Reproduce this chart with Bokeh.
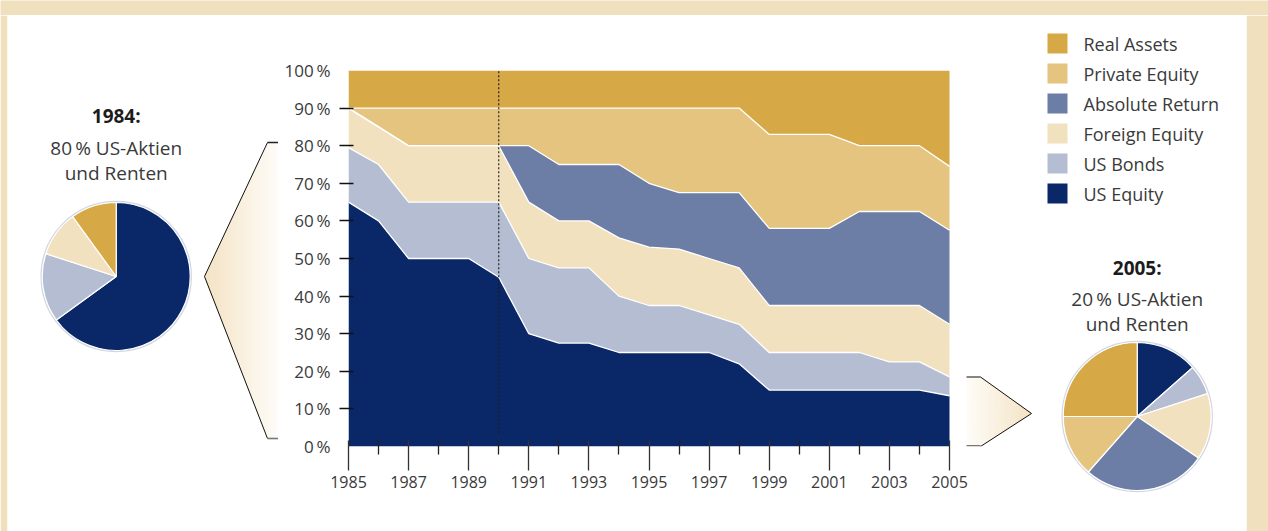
import numpy as np
from bokeh.plotting import figure
from bokeh.models import ColumnDataSource, Range1d, FixedTicker, LinearAxis
from bokeh.layouts import row, column
from bokeh.core.properties import value
from bokeh.embed import file_html
from bokeh.resources import INLINE

# ---------------- data ----------------
years = list(range(1985, 2006))
series_names = ["US Equity", "US Bonds", "Foreign Equity",
                "Absolute Return", "Private Equity", "Real Assets"]
us_equity = [65, 60, 50, 50, 50, 45, 30, 27.5, 27.5, 25, 25, 25, 25, 22,
             15, 15, 15, 15, 15, 15, 13.5]
us_bonds = [14.5, 15, 15, 15, 15, 20, 20, 20, 20, 15, 12.5, 12.5, 10, 10.5,
            10, 10, 10, 10, 7.5, 7.5, 5]
foreign_equity = [10.5, 10, 15, 15, 15, 15, 15, 12.5, 12.5, 15.5, 15.5, 15, 15, 15,
                  12.5, 12.5, 12.5, 12.5, 15, 15, 14]
absolute_return = [0, 0, 0, 0, 0, 0, 15, 15, 15, 19.5, 17, 15, 17.5, 20,
                   20.5, 20.5, 20.5, 25, 25, 25, 25]
private_equity = [0, 5, 10, 10, 10, 10, 10, 15, 15, 15, 20, 22.5, 22.5, 22.5,
                  25, 25, 25, 17.5, 17.5, 17.5, 17]
real_assets = [10, 10, 10, 10, 10, 10, 10, 10, 10, 10, 10, 10, 10, 10,
               17, 17, 17, 20, 20, 20, 25.5]

pie_1984 = [65, 15, 10, 0, 0, 10]
pie_2005 = [13.5, 6.5, 14.5, 27, 13.5, 25]
pie_titles = ["1984:", "2005:"]
pie_sub1 = ["80\u2009% US-Aktien", "20\u2009% US-Aktien"]
pie_sub2 = ["und Renten", "und Renten"]

x_tick_years = list(range(1985, 2006, 2))
x_minor_years = list(range(1986, 2005, 2))
y_ticks = list(range(0, 101, 10))
y_minor = list(range(10, 100, 10))
y_tick_labels = [f"{t}\u2009%" for t in y_ticks]
marker_year = 1990

# ---------------- style ----------------
colors = ["#0A2868", "#B5BDD3", "#F2E1BF", "#6C7DA6", "#E5C47F", "#D7A846"]
BEIGE = "#F1E0BD"
GRAD_DARK = np.array([244, 228, 198])
GRAD_LIGHT = np.array([254, 252, 248])
TXT = "#3a3a3a"
FONT = "Open Sans"
TOP = 15          # height of the beige top band
H = 531 - TOP     # height of the panel row


def plain(width, height, xr, yr, **kw):
    p = figure(width=width, height=height, x_range=xr, y_range=yr,
               toolbar_location=None, output_backend="svg",
               x_axis_location=None, y_axis_location=None, frame_align=False,
               background_fill_color="white", outline_line_color=None, **kw)
    p.grid.visible = False
    return p


def shape_poly(ox, top_y, bot_y, lo, hi):
    xs = sorted(set([lo, hi] + [v for v in ox if lo < v < hi]))
    t = np.interp(xs, ox, top_y)
    b = np.interp(xs, ox, bot_y)
    return list(xs) + list(xs[::-1]), list(t) + list(b[::-1])


def grad_color(t):
    c = GRAD_LIGHT + (GRAD_DARK - GRAD_LIGHT) * t
    return "#%02x%02x%02x" % tuple(int(round(v)) for v in c)


def draw_pie(p, cx, cy, vals, title, s1, s2, ty):
    frac = np.array(vals, dtype=float) / np.sum(vals)
    cum = np.concatenate([[0], np.cumsum(frac)])
    keep = frac > 0
    start = (np.pi / 2 - 2 * np.pi * cum[:-1])[keep]
    end = (np.pi / 2 - 2 * np.pi * cum[1:])[keep]
    cols = [c for c, k in zip(colors, keep) if k]
    p.circle(x=[cx], y=[cy], radius=75, radius_units="screen", fill_color=None,
             line_color="#D3D7E2", line_width=1.5)
    src = ColumnDataSource(dict(x=[cx] * len(cols), y=[cy] * len(cols),
                                s=list(start), e=list(end), c=cols))
    p.wedge(x="x", y="y", radius=74, radius_units="screen", start_angle="s",
            end_angle="e", direction="clock", fill_color="c",
            line_color="white", line_width=1.2, source=src)
    p.text(x=[cx], y=[-ty[0]], text=[title], text_font=value(FONT),
           text_font_style="bold", text_font_size="19px", text_color="#1c1c1c",
           text_align="center", text_baseline="alphabetic")
    p.text(x=[cx, cx], y=[-ty[1], -ty[2]], text=[s1, s2], text_font=value(FONT),
           text_font_size="19px", text_color=TXT,
           text_align="center", text_baseline="alphabetic")


# ---------------- top band ----------------
band = figure(width=1268, height=TOP, min_border=0, toolbar_location=None,
              output_backend="svg", x_axis_location=None, y_axis_location=None,
              background_fill_color=BEIGE, border_fill_color=BEIGE,
              outline_line_color=None, frame_align=False)
band.grid.visible = False

# ---------------- left panel (page x 0..278) ----------------
left = plain(278, H, Range1d(7, 278), Range1d(-531, -TOP), min_border_left=7,
             min_border_right=0, min_border_top=0, min_border_bottom=0,
             border_fill_color=BEIGE)
lx = [204, 267, 278]
lt = [-276, -142, -142]
lb = [-276, -438, -438]
N = 30
xs_l, ys_l, cs_l = [], [], []
for k in range(N):
    hi = 278 - k * (72 / N)
    a, b = shape_poly(lx, lt, lb, 204, hi)
    xs_l.append(a)
    ys_l.append(b)
    cs_l.append(grad_color(k / (N - 1)))
left.patches(xs=xs_l, ys=ys_l, fill_color=cs_l, line_color=None)
left.line(x=[267, 204, 267], y=[-142, -276, -438], line_color="#111", line_width=1)
left.segment(x0=[267, 267], y0=[-142, -438], x1=[278, 278], y1=[-142, -438],
             line_color=["#222", "#777"], line_width=1.6)
draw_pie(left, 115.7, -276, pie_1984, pie_titles[0], pie_sub1[0], pie_sub2[0],
         (115, 147.5, 172))

# ---------------- main chart (page x 278..1040) ----------------
main = plain(762, H, Range1d(1985, 1985 + 692 * 20 / 601), Range1d(0, 100),
             min_border_left=70, min_border_right=0, min_border_top=70 - TOP,
             min_border_bottom=531 - 446, border_fill_color="white")
series = [us_equity, us_bonds, foreign_equity, absolute_return, private_equity, real_assets]
cum = np.cumsum(np.array(series, dtype=float), axis=0)
data = dict(year=years, b0=[0.0] * len(years))
for i in range(len(series)):
    data[f"t{i}"] = list(cum[i])
    if i > 0:
        data[f"b{i}"] = list(cum[i - 1])
src = ColumnDataSource(data)
for i, name in enumerate(series_names):
    main.varea(x="year", y1=f"b{i}", y2=f"t{i}", fill_color=colors[i], source=src)
for i in range(len(series) - 1):
    main.line(x="year", y=f"t{i}", line_color="white", line_width=1.3, source=src)
main.segment(x0=[marker_year], y0=[3.5], x1=[marker_year], y1=[100],
             line_color="#1a1a1a", line_width=1.1, line_dash="2 2")

main.extra_x_ranges = {"px": Range1d(348, 1040)}
main.extra_y_ranges = {"py": Range1d(-446, -70)}
rx = [966, 980, 1031]
rt = [-376, -376, -413]
rb = [-446, -446, -413]
xs_r, ys_r, cs_r = [], [], []
for k in range(N):
    lo = 966 + k * (63 / N)
    a, b = shape_poly(rx, rt, rb, lo, 1031)
    xs_r.append(a)
    ys_r.append(b)
    cs_r.append(grad_color(k / (N - 1)))
main.patches(xs=xs_r, ys=ys_r, fill_color=cs_r, line_color=None,
             x_range_name="px", y_range_name="py")
main.line(x=[966, 980, 1031, 980], y=[-376.5, -376.5, -413, -446], line_color="#111",
          line_width=1, x_range_name="px", y_range_name="py")
main.segment(x0=[966], y0=[-445.3], x1=[980], y1=[-445.3], line_color="#777",
             line_width=1.6, x_range_name="px", y_range_name="py")

xaxis = LinearAxis(ticker=FixedTicker(ticks=x_tick_years, minor_ticks=x_minor_years))
xaxis.axis_line_color = None
xaxis.major_tick_in = 6
xaxis.major_tick_out = 24
xaxis.minor_tick_in = 6
xaxis.minor_tick_out = 8
xaxis.major_tick_line_color = "#333"
xaxis.minor_tick_line_color = "#222"
xaxis.major_tick_line_width = 1.3
xaxis.minor_tick_line_width = 1.3
xaxis.major_label_standoff = 5
xaxis.major_label_text_font = FONT
xaxis.major_label_text_font_size = "16px"
xaxis.major_label_text_color = TXT
main.add_layout(xaxis, "below")

yaxis = LinearAxis(ticker=FixedTicker(ticks=y_ticks, minor_ticks=y_minor))
yaxis.axis_line_color = None
yaxis.major_tick_in = 0
yaxis.major_tick_out = 0
yaxis.minor_tick_in = 5
yaxis.minor_tick_out = 9
yaxis.minor_tick_line_color = "#111"
yaxis.minor_tick_line_width = 1.3
yaxis.major_label_standoff = 9
yaxis.major_label_text_font = FONT
yaxis.major_label_text_font_size = "17px"
yaxis.major_label_text_color = TXT
yaxis.major_label_overrides = dict(zip(y_ticks, y_tick_labels))
main.add_layout(yaxis, "left")

# ---------------- right panel (page x 1040..1268) ----------------
right = plain(228, H, Range1d(1040, 1246), Range1d(-531, -TOP), min_border_left=0,
              min_border_top=0, min_border_bottom=0, min_border_right=22,
              border_fill_color=BEIGE)
leg_names = series_names[::-1]
leg_colors = colors[::-1]
leg_y = [-(43 + 30 * i) for i in range(len(leg_names))]
right.rect(x=[1057] * len(leg_names), y=leg_y, width=20, height=20,
           fill_color=leg_colors, line_color=None)
right.text(x=[1083] * len(leg_names), y=leg_y, text=leg_names, text_font=value(FONT),
           text_font_size="18px", text_color=TXT, text_baseline="middle",
           text_align="left")
draw_pie(right, 1136.7, -416, pie_2005, pie_titles[1], pie_sub1[1], pie_sub2[1],
         (267.5, 298.5, 323))

layout = column(band, row(left, main, right))
open("out.html", "w").write(file_html(layout, INLINE))
